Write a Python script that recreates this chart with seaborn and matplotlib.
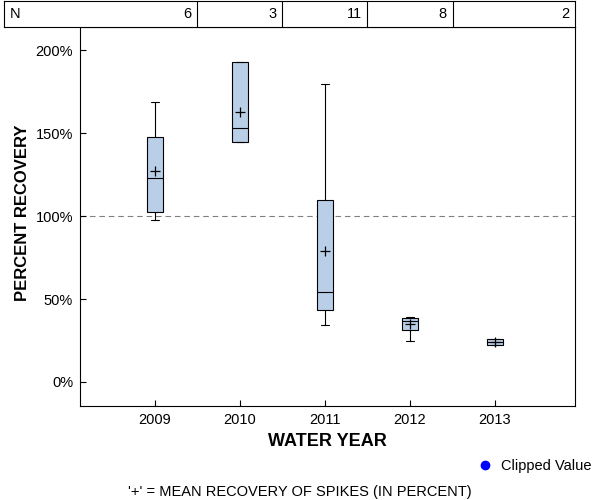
import numpy as np
import pandas as pd
import matplotlib
matplotlib.use("Agg")
import matplotlib.pyplot as plt
from matplotlib.lines import Line2D
from matplotlib.ticker import PercentFormatter
import seaborn as sns

# values (percent recovery)
years = ["2009", "2010", "2011", "2012", "2013"]
n_samples = [6, 3, 11, 8, 2]
whisker_low = [97.6, 144.6, 34.3, 24.7, 22.3]
q1 = [102.4, 144.6, 43.4, 31.3, 22.3]
median = [122.9, 153.0, 54.2, 36.7, 24.0]
q3 = [147.6, 192.8, 109.6, 38.5, 25.9]
whisker_high = [168.7, 192.8, 179.5, 39.2, 25.9]
mean = [127.0, 163.0, 78.9, 35.0, 24.1]

box_color = "#B9CFE8"

sns.set_style("white")
plt.rcParams['font.family'] = ['Liberation Sans', 'DejaVu Sans']
plt.rcParams['xtick.direction'] = 'in'
plt.rcParams['ytick.direction'] = 'in'
plt.rcParams['text.color'] = 'black'
plt.rcParams['axes.labelcolor'] = 'black'
plt.rcParams['xtick.color'] = 'black'
plt.rcParams['ytick.color'] = 'black'

# five summary values per year -> with whis=inf seaborn rebuilds the same box
rows = []
for i, yr in enumerate(years):
    for v in (whisker_low[i], q1[i], median[i], q3[i], whisker_high[i]):
        rows.append({"year": yr, "value": v})
df = pd.DataFrame(rows)

fig = plt.figure(figsize=(6, 5), dpi=100)
ax = fig.add_axes([80/600, 1-406/500, 495/600, 379/500])

sns.boxplot(data=df, x="year", y="value", order=years, whis=np.inf, width=0.18,
            color=box_color, saturation=1, linecolor="black", linewidth=0.8,
            showfliers=False, ax=ax)
sns.pointplot(x=years, y=mean, order=years, linestyle="none", markers="+",
              color="black", markersize=7.5, markeredgewidth=0.9, errorbar=None, ax=ax)

ax.axhline(100, color="gray", linestyle=(0, (5, 3.5)), linewidth=0.8, zorder=0)

xmin, xmax = -0.88, 4.94
ax.set_xlim(xmin, xmax)
ax.set_ylim(-14.5, 214)
ax.set_yticks([0, 50, 100, 150, 200])
ax.yaxis.set_major_formatter(PercentFormatter(decimals=0))
ax.tick_params(axis="both", labelsize=10.5, length=4, width=0.8, color="black",
               labelcolor="black", bottom=True, left=True, top=False, right=False, pad=5)
for s in ax.spines.values():
    s.set_color("black")
    s.set_linewidth(0.8)

ax.set_xlabel("WATER YEAR", fontsize=13, fontweight="bold")
ax.xaxis.set_label_coords(0.5, (406-441)/379)
ax.xaxis.label.set_va("center")
ax.set_ylabel("PERCENT RECOVERY", fontsize=12, fontweight="bold")
ax.yaxis.set_label_coords((23-80)/495, (406-213)/379)
ax.yaxis.label.set_va("center")

# N table above the plot
tab = fig.add_axes([4/600, 1-27/500, 571/600, 26/500])
tab_left = xmin - 76/85
tab.set_xlim(tab_left, xmax)
tab.set_ylim(0, 1)
tab.set_xticks([])
tab.set_yticks([])
for s in tab.spines.values():
    s.set_color("black")
    s.set_linewidth(0.8)
edges = [i + 0.5 for i in range(len(years) - 1)] + [xmax]
for e in edges[:-1]:
    tab.axvline(e, color="black", linewidth=0.8)
tab.text(tab_left + 0.07, 0.5, "N", ha="left", va="center", fontsize=10.5)
for e, n in zip(edges, n_samples):
    tab.text(e - 0.07, 0.5, str(n), ha="right", va="center", fontsize=10.5)

handle = Line2D([], [], marker="o", color="blue", linestyle="none", markersize=6)
fig.legend([handle], ["Clipped Value"], loc="center left",
           bbox_to_anchor=(478/600, 1-466/500), frameon=False, fontsize=10.5,
           handlelength=1, handletextpad=0.6, borderpad=0, borderaxespad=0)

fig.text(300/600, 1-492/500, "'+' = MEAN RECOVERY OF SPIKES (IN PERCENT)",
         ha="center", va="center", fontsize=10.5)

fig.savefig("out.png", dpi=100)
